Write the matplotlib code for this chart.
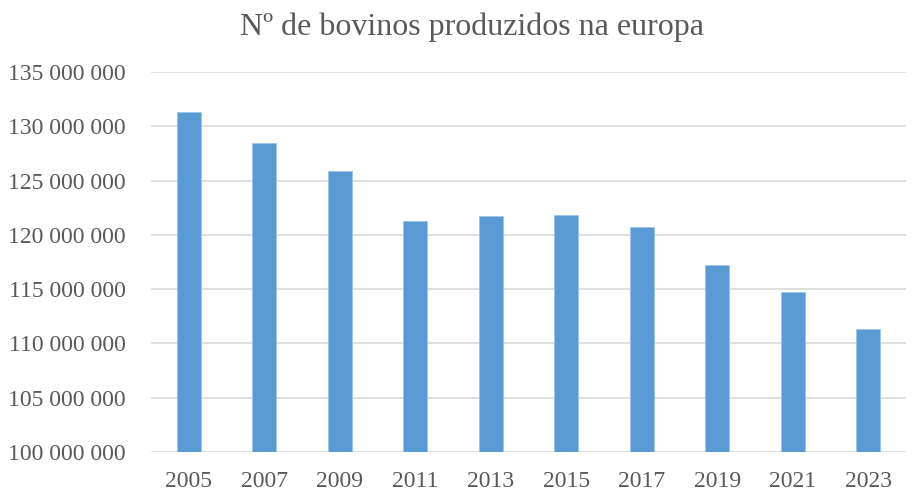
import matplotlib.pyplot as plt
from matplotlib.ticker import FuncFormatter, MultipleLocator

anos = ['2005', '2007', '2009', '2011', '2013', '2015', '2017', '2019', '2021', '2023']
bovinos = [131_300_000, 128_500_000, 125_900_000, 121_300_000, 121_750_000,
           121_870_000, 120_700_000, 117_200_000, 114_700_000, 111_300_000]

plt.rcParams['font.family'] = ['Liberation Serif', 'DejaVu Serif']

fig = plt.figure(figsize=(9.13, 4.92), dpi=100)
ax = fig.add_axes([151 / 913, 40 / 492, 755 / 913, 380 / 492])

x = range(len(anos))
ax.bar(x, bovinos, width=0.32, color='#5B9BD5', edgecolor='#9DC3E6', linewidth=0.6, zorder=3)

ax.set_ylim(100_000_000, 135_000_000)
ax.set_xlim(-0.5, len(anos) - 0.5)
ax.yaxis.set_major_locator(MultipleLocator(5_000_000))
ax.yaxis.set_major_formatter(FuncFormatter(lambda v, p: f"{int(v):,}".replace(',', ' ')))
ax.set_xticks(list(x))
ax.set_xticklabels(anos)

ax.grid(axis='y', color='#D9D9D9', linewidth=1.2, zorder=0)
for s in ax.spines.values():
    s.set_visible(False)
ax.tick_params(axis='both', length=0, labelsize=17, colors='#595959')
ax.tick_params(axis='x', pad=14)
ax.tick_params(axis='y', pad=18)

fig.suptitle('Nº de bovinos produzidos na europa', fontsize=23, color='#595959',
             x=0.517, y=0.975)

fig.savefig('out.png', dpi=100)
